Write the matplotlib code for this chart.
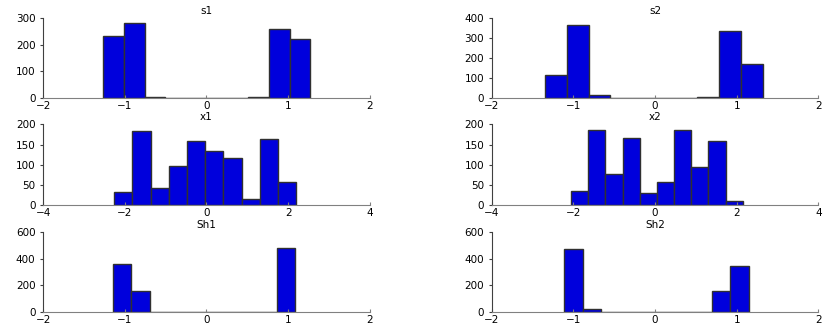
import matplotlib.pyplot as plt
import numpy as np

# Histogramas (10 clases cada uno)
titulos = ["s1", "s2", "x1", "x2", "Sh1", "Sh2"]

centros_s1 = [-1.138, -0.884, -0.630, -0.376, -0.122, 0.131, 0.385, 0.639, 0.892, 1.146]
cuentas_s1 = [233, 279, 5, 0, 0, 0, 0, 5, 258, 221]

centros_s2 = [-1.214, -0.947, -0.681, -0.414, -0.148, 0.119, 0.385, 0.652, 0.918, 1.185]
cuentas_s2 = [118, 363, 15, 0, 0, 0, 0, 4, 332, 168]

centros_x1 = [-2.038, -1.593, -1.147, -0.701, -0.255, 0.190, 0.636, 1.082, 1.528, 1.973]
cuentas_x1 = [32, 183, 43, 97, 158, 134, 116, 14, 165, 58]

centros_x2 = [-1.847, -1.426, -1.006, -0.586, -0.165, 0.255, 0.675, 1.096, 1.516, 1.937]
cuentas_x2 = [34, 187, 77, 167, 29, 56, 186, 95, 158, 11]

centros_sh1 = [-1.032, -0.809, -0.587, -0.364, -0.142, 0.081, 0.304, 0.526, 0.749, 0.971]
cuentas_sh1 = [357, 161, 0, 0, 0, 0, 0, 0, 5, 476]

centros_sh2 = [-1.001, -0.775, -0.549, -0.323, -0.097, 0.129, 0.356, 0.582, 0.808, 1.034]
cuentas_sh2 = [469, 28, 0, 0, 0, 0, 0, 0, 157, 346]

limites_x = [(-2, 2), (-2, 2), (-4, 4), (-4, 4), (-2, 2), (-2, 2)]
limites_y = [(0, 300), (0, 400), (0, 200), (0, 200), (0, 600), (0, 600)]
ticks_x = [[-2, -1, 0, 1, 2], [-2, -1, 0, 1, 2], [-4, -2, 0, 2, 4], [-4, -2, 0, 2, 4],
           [-2, -1, 0, 1, 2], [-2, -1, 0, 1, 2]]
ticks_y = [[0, 100, 200, 300], [0, 100, 200, 300, 400], [0, 50, 100, 150, 200],
           [0, 50, 100, 150, 200], [0, 200, 400, 600], [0, 200, 400, 600]]

centros = [centros_s1, centros_s2, centros_x1, centros_x2, centros_sh1, centros_sh2]
cuentas = [cuentas_s1, cuentas_s2, cuentas_x1, cuentas_x2, cuentas_sh1, cuentas_sh2]

plt.rcParams['font.family'] = ['DejaVu Sans']

fig = plt.figure(figsize=(8.3, 3.27), dpi=100)

# posiciones de los ejes (en fraccion de figura)
izq = [0.052, 0.5925]
ancho = 0.3935
abajo = [0.6994, 0.3731, 0.045]
alto = 0.2462

for i in range(6):
    fila, col = divmod(i, 2)
    ax = fig.add_axes([izq[col], abajo[fila], ancho, alto])
    c = np.array(centros[i])
    w = c[1] - c[0]
    ax.bar(c, cuentas[i], width=w, color="#0000DC", edgecolor="#303030", linewidth=1.0)
    ax.set_xlim(limites_x[i])
    ax.set_ylim(limites_y[i])
    ax.set_xticks(ticks_x[i])
    ax.set_yticks(ticks_y[i])
    ax.set_xticklabels([str(t).replace("-", "\u2212") for t in ticks_x[i]])
    ax.set_title(titulos[i], fontsize=7.5, pad=3)
    ax.spines["top"].set_visible(False)
    ax.spines["right"].set_visible(False)
    ax.spines["left"].set_color("#404040")
    ax.spines["bottom"].set_color("#808080")
    ax.tick_params(axis="y", direction="out", length=2.5, labelsize=7.5, pad=3, color="#404040")
    ax.tick_params(axis="x", direction="in", length=2, labelsize=7.5, pad=2, color="#808080")

fig.savefig("out.png", dpi=100)
